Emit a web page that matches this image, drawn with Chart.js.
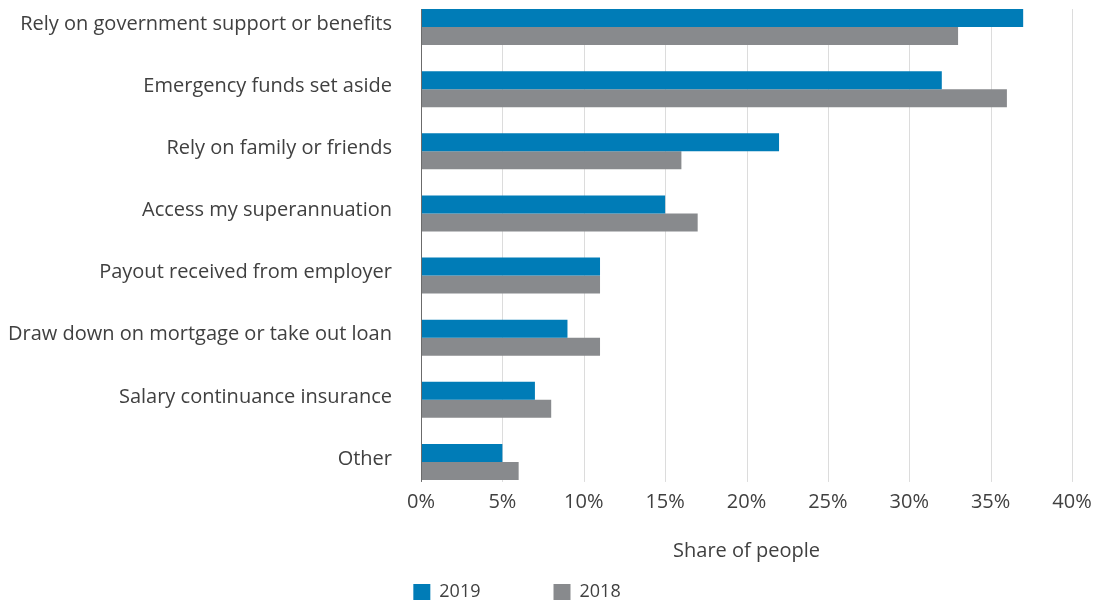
<!DOCTYPE html>
<html>
<head>
<meta charset="utf-8">
<script src="https://cdn.jsdelivr.net/npm/chart.js@4/dist/chart.umd.min.js"></script>
<style>
  html, body { margin: 0; padding: 0; background: #fff; overflow: hidden; width: 1095px; height: 603px; }
  #wrap { position: absolute; left: 0; top: -16px; width: 1095px; height: 680px; }
</style>
</head>
<body>
<div id="wrap"><canvas id="c"></canvas></div>
<script>
const categories = [
  'Rely on government support or benefits',
  'Emergency funds set aside',
  'Rely on family or friends',
  'Access my superannuation',
  'Payout received from employer',
  'Draw down on mortgage or take out loan',
  'Salary continuance insurance',
  'Other'
];
const seriesNames = ['2019', '2018'];
const values2019 = [37, 32, 22, 15, 11, 9, 7, 5];
const values2018 = [33, 36, 16, 17, 11, 11, 8, 6];
const xTicks = [0, 5, 10, 15, 20, 25, 30, 35, 40];

const TEXT = '#404040';
const FONT = 'Open Sans';

function barExtent(chart) {
  const b0 = chart.getDatasetMeta(0).data[0];
  const last = chart.getDatasetMeta(1).data;
  const bl = last[last.length - 1];
  return { top: b0.y - b0.height / 2, bottom: bl.y + bl.height / 2 };
}

const gridPlugin = {
  id: 'customGrid',
  beforeDatasetsDraw(chart) {
    const ctx = chart.ctx;
    const xs = chart.scales.x;
    const { top, bottom } = barExtent(chart);
    ctx.save();
    ctx.strokeStyle = '#dcdcdc';
    ctx.lineWidth = 1;
    xs.ticks.forEach(t => {
      if (t.value === 0) return;
      const px = Math.round(xs.getPixelForValue(t.value)) + 0.5;
      ctx.beginPath();
      ctx.moveTo(px, top);
      ctx.lineTo(px, bottom + 2);
      ctx.stroke();
    });
    ctx.restore();
  },
  afterDatasetsDraw(chart) {
    const ctx = chart.ctx;
    const xs = chart.scales.x;
    const { top, bottom } = barExtent(chart);
    const px = Math.round(xs.getPixelForValue(0)) + 0.5;
    ctx.save();
    ctx.strokeStyle = '#6b6b6b';
    ctx.lineWidth = 1;
    ctx.beginPath();
    ctx.moveTo(px, top);
    ctx.lineTo(px, bottom + 2);
    ctx.stroke();
    ctx.restore();
  },
  afterLayout(chart) {
    const lg = chart.legend;
    if (!lg) return;
    const dx = -19, dy = -53;
    lg.left += dx; lg.right += dx;
    lg.top += dy; lg.bottom += dy;
  }
};

new Chart(document.getElementById('c'), {
  type: 'bar',
  data: {
    labels: categories,
    datasets: [
      { label: seriesNames[0], data: values2019, backgroundColor: '#007cb7', borderWidth: 0 },
      { label: seriesNames[1], data: values2018, backgroundColor: '#888a8d', borderWidth: 0 }
    ]
  },
  options: {
    indexAxis: 'y',
    responsive: true,
    maintainAspectRatio: false,
    animation: false,
    devicePixelRatio: 1,
    layout: { padding: { top: 0, right: 23, bottom: 0, left: 0 } },
    datasets: { bar: { categoryPercentage: 0.5795, barPercentage: 1 } },
    scales: {
      x: {
        min: 0, max: 40,
        afterBuildTicks(scale) { scale.ticks = xTicks.map(v => ({ value: v })); },
        afterFit(scale) { scale.height = 70; },
        grid: { display: false, drawTicks: false },
        border: { display: false },
        ticks: {
          padding: -3,
          color: TEXT,
          font: { family: FONT, size: 20 },
          callback: v => v + '%'
        },
        title: {
          display: true,
          text: 'Share of people',
          color: TEXT,
          font: { family: FONT, size: 20 },
          padding: { top: 4, bottom: 0 }
        }
      },
      y: {
        afterFit(scale) { scale.width = 421; },
        grid: { display: true, drawOnChartArea: false, drawTicks: true, tickLength: 29, tickColor: 'rgba(0,0,0,0)', tickWidth: 0 },
        border: { display: false },
        ticks: {
          padding: 0,
          labelOffset: -3,
          color: TEXT,
          font: { family: FONT, size: 20 }
        }
      }
    },
    plugins: {
      legend: {
        position: 'bottom',
        align: 'center',
        labels: {
          boxWidth: 17,
          boxHeight: 16,
          padding: 73,
          color: TEXT,
          font: { family: FONT, size: 18 }
        }
      },
      tooltip: { enabled: false }
    }
  },
  plugins: [gridPlugin]
});
</script>
</body>
</html>
